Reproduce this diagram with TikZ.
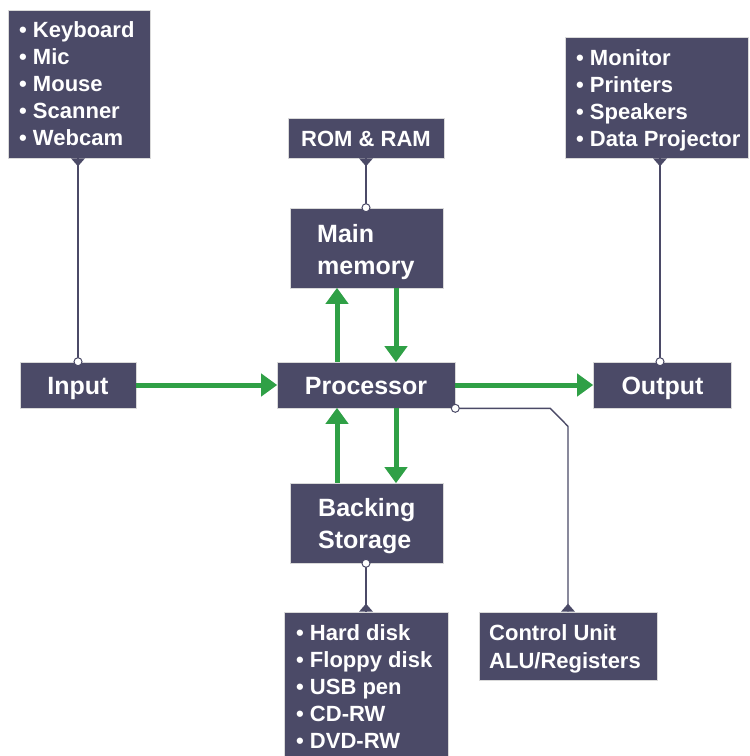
\documentclass[tikz,border=0pt]{standalone}
\usepackage{fontspec}
\setmainfont{Liberation Sans}
\usetikzlibrary{arrows.meta,calc}
\definecolor{boxc}{HTML}{4B4A67}
\definecolor{grn}{HTML}{2FA046}
\newcommand{\lines}[1]{\begin{tabular}[t]{@{}l@{}}#1\end{tabular}}
\begin{document}
\begin{tikzpicture}[x=1pt,y=-1pt,
  box/.style={fill=boxc,draw=black!15,line width=0.6pt,inner sep=0pt},
  bigt/.style={text=white,inner sep=0pt,font=\bfseries\fontsize{25}{32}\selectfont},
  lstt/.style={text=white,inner sep=0pt,font=\bfseries\fontsize{22}{27}\selectfont},
  flow/.style={grn,line width=5pt,-{Triangle[length=16pt,width=22pt]},shorten >=-0.5pt},
  link/.style={boxc,line width=1.4pt},
  pin/.style={fill=white,draw=boxc,line width=1pt},
  tip/.style={fill=boxc}]
\useasboundingbox (0,0) rectangle (750,756);
\fill[white] (0,0) rectangle (750,756);

% boxes
\node[box,minimum width=142pt,minimum height=148pt] (inlist) at (79,84) {};
\node[box,minimum width=183pt,minimum height=121pt] (outlist) at (656.5,97.5) {};
\node[box,minimum width=156pt,minimum height=40pt] (rom) at (366,138) {};
\node[box,minimum width=153pt,minimum height=80pt] (mem) at (366.5,248) {};
\node[box,minimum width=116pt,minimum height=46pt] (input) at (78,385) {};
\node[box,minimum width=178pt,minimum height=46pt] (proc) at (366,385) {};
\node[box,minimum width=138pt,minimum height=46pt] (output) at (662,385) {};
\node[box,minimum width=153pt,minimum height=80pt] (back) at (366.5,523) {};
\node[box,minimum width=164pt,minimum height=150pt] (stlist) at (366,687) {};
\node[box,minimum width=178pt,minimum height=68pt] (ctrl) at (568,646) {};

% texts
\node[lstt,anchor=base west] (inlistT) at (19,37.5) {\lines{• Keyboard\\• Mic\\• Mouse\\• Scanner\\• Webcam}};
\node[lstt,anchor=base west] (outlistT) at (576,65) {\lines{• Monitor\\• Printers\\• Speakers\\• Data Projector}};
\node[lstt,anchor=base] (romT) at (366,146) {ROM \& RAM};
\node[bigt,anchor=base west] (memT) at (317,242) {\lines{Main\\memory}};
\node[bigt,anchor=base] (inputT) at (78,394) {Input};
\node[bigt,anchor=base] (procT) at (366,394) {Processor};
\node[bigt,anchor=base] (outputT) at (662.5,394) {Output};
\node[bigt,anchor=base west] (backT) at (318,516) {\lines{Backing\\Storage}};
\node[lstt,anchor=base west] (stlistT) at (296,640) {\lines{• Hard disk\\• Floppy disk\\• USB pen\\• CD-RW\\• DVD-RW}};
\node[lstt,anchor=base west,font=\bfseries\fontsize{22}{28}\selectfont] (ctrlT) at (489,640) {\lines{Control Unit\\ALU/Registers}};

% green flows
\draw[flow] (input.east) -- (proc.west);
\draw[flow] (proc.east) -- (output.west);
\draw[flow] ([xshift=-29pt]proc.north) -- ([xshift=-29.5pt]mem.south);
\draw[flow] ([xshift=29.5pt]mem.south) -- ([xshift=30pt]proc.north);
\draw[flow] ([xshift=-29.5pt]back.north) -- ([xshift=-29pt]proc.south);
\draw[flow] ([xshift=30pt]proc.south) -- ([xshift=29.5pt]back.north);

% callout links
\coordinate (a1) at (input.north);
\coordinate (a2) at (a1 |- inlist.south);
\draw[link] (a1) -- (a2);
\fill[tip] ($(a2)+(-7,0)$) -- ($(a2)+(0,8)$) -- ($(a2)+(7,0)$) -- cycle;
\draw[pin] (a1) circle (4pt);

\coordinate (b1) at ([xshift=-2pt]output.north);
\coordinate (b2) at (b1 |- outlist.south);
\draw[link] (b1) -- (b2);
\fill[tip] ($(b2)+(-7,0)$) -- ($(b2)+(0,8)$) -- ($(b2)+(7,0)$) -- cycle;
\draw[pin] (b1) circle (4pt);

\coordinate (c1) at (mem.north -| rom.south);
\coordinate (c2) at (rom.south);
\draw[link] (c1) -- (c2);
\fill[tip] ($(c2)+(-7,0)$) -- ($(c2)+(0,8)$) -- ($(c2)+(7,0)$) -- cycle;
\draw[pin] (c1) circle (4pt);

\coordinate (d1) at (back.south -| stlist.north);
\coordinate (d2) at (stlist.north);
\draw[link] (d1) -- (d2);
\fill[tip] ($(d2)+(-7,0)$) -- ($(d2)+(0,-8)$) -- ($(d2)+(7,0)$) -- cycle;
\draw[pin] (d1) circle (4pt);

\coordinate (e1) at (proc.south east);
\coordinate (e2) at ($(e1)+(95,0)$);
\coordinate (e3) at ($(e1 -| ctrl.north)+(0,18)$);
\draw[link] (e1) -- (e2) -- (e3) -- (ctrl.north);
\fill[tip] ($(ctrl.north)+(-7,0)$) -- ($(ctrl.north)+(0,-8)$) -- ($(ctrl.north)+(7,0)$) -- cycle;
\draw[pin] (e1) circle (4pt);
\end{tikzpicture}
\end{document}
